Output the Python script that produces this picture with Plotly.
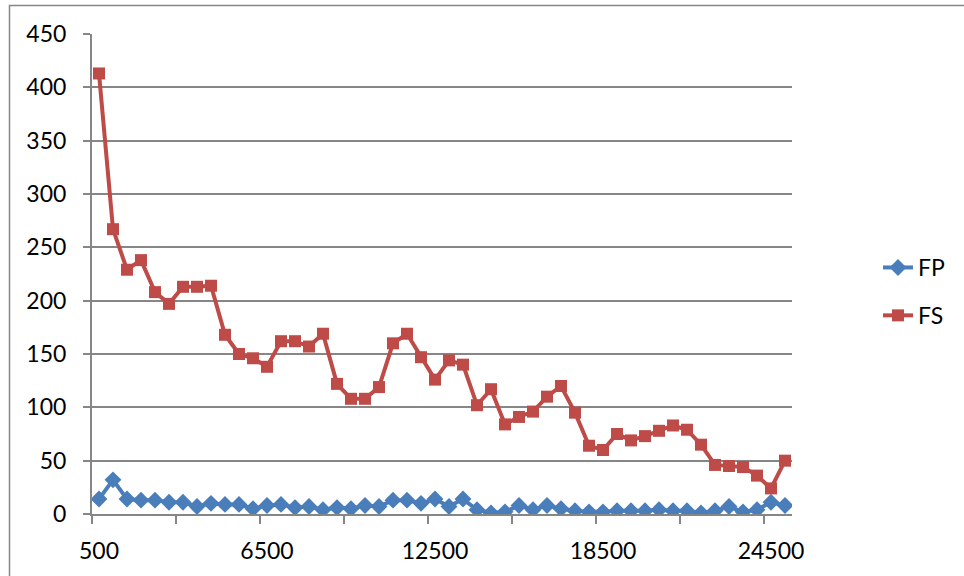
import plotly.graph_objects as go

# Categories (x) and series values
X = [500, 1000, 1500, 2000, 2500, 3000, 3500, 4000, 4500, 5000,
     5500, 6000, 6500, 7000, 7500, 8000, 8500, 9000, 9500, 10000,
     10500, 11000, 11500, 12000, 12500, 13000, 13500, 14000, 14500, 15000,
     15500, 16000, 16500, 17000, 17500, 18000, 18500, 19000, 19500, 20000,
     20500, 21000, 21500, 22000, 22500, 23000, 23500, 24000, 24500, 25000]

FP = [14, 32, 14, 13, 13, 11, 11, 7, 10, 9,
      9, 5, 8, 9, 6, 7, 4, 6, 5, 8,
      7, 13, 13, 10, 14, 7, 14, 4, 1, 2,
      8, 4, 8, 5, 3, 2, 2, 3, 3, 3,
      4, 3, 3, 1, 3, 7, 2, 4, 11, 8]

FS = [413, 267, 229, 238, 208, 197, 213, 213, 214, 168,
      150, 146, 138, 162, 162, 157, 169, 122, 108, 108,
      119, 160, 169, 147, 126, 144, 140, 102, 117, 84,
      91, 96, 110, 120, 95, 64, 60, 75, 69, 73,
      78, 83, 79, 65, 46, 45, 44, 36, 24, 50]

X_TICKS = [500, 6500, 12500, 18500, 24500]
X_BOUNDS = [250, 3250, 6250, 9250, 12250, 15250, 18250, 21250, 24250]
Y_TICKS = [0, 50, 100, 150, 200, 250, 300, 350, 400, 450]

BLUE = "#4A7EBB"
RED = "#BE4B48"
GRID = "#868686"
FONT = "Lato, Open Sans, sans-serif"
FS_PX = 23

W, H = 964, 576
L, R, T, B = 92, 792, 34, 514

fig = go.Figure()
fig.add_trace(go.Scatter(
    x=X, y=FP, name="FP", mode="lines+markers", legendgroup="a",
    line=dict(color=BLUE, width=4),
    marker=dict(symbol="diamond", size=13, color=BLUE),
))
fig.add_trace(go.Scatter(
    x=X, y=FS, name="FS", mode="lines+markers", legendgroup="b",
    line=dict(color=RED, width=4),
    marker=dict(symbol="square", size=12, color=RED),
))

fig.update_layout(
    width=W, height=H,
    margin=dict(l=L, r=W - R, t=T, b=H - B, pad=0, autoexpand=False),
    paper_bgcolor="white", plot_bgcolor="white",
    font=dict(family=FONT, size=FS_PX, color="#000000"),
    showlegend=True,
    legend=dict(
        x=(878 - L) / (R - L), y=(B - 246) / (B - T),
        xanchor="left", yanchor="top",
        traceorder="grouped", tracegroupgap=15,
        font=dict(family=FONT, size=FS_PX, color="#000000"),
        bgcolor="rgba(0,0,0,0)",
    ),
    xaxis=dict(
        range=[250, 25250], tickmode="array", tickvals=X_TICKS,
        ticktext=[str(v) for v in X_TICKS],
        ticks="outside", ticklen=0, tickcolor=GRID,
        showgrid=False, zeroline=False, automargin=False,
        showline=True, linecolor=GRID, linewidth=2,
        ticklabelstandoff=15,
        minor=dict(tickmode="array", tickvals=X_BOUNDS, ticks="outside",
                   ticklen=8, tickcolor=GRID, tickwidth=2, showgrid=False),
    ),
    yaxis=dict(
        range=[0, 450], tickmode="array", tickvals=Y_TICKS,
        ticks="outside", ticklen=7, tickcolor=GRID, tickwidth=2,
        showgrid=True, gridcolor=GRID, gridwidth=2, automargin=False,
        zeroline=False, showline=True, linecolor=GRID, linewidth=2,
        ticklabelstandoff=12,
    ),
    shapes=[dict(
        type="rect", xref="paper", yref="paper",
        x0=(9.5 - L) / (R - L), x1=(990 - L) / (R - L),
        y0=(B - 600) / (B - T), y1=(B - 5.5) / (B - T),
        line=dict(color=GRID, width=1.5), fillcolor="rgba(0,0,0,0)",
    )],
)

fig.write_html(
    "out.html",
    config={"displayModeBar": False},
    post_script="document.body.style.margin='0px';document.body.style.overflow='hidden';",
)
